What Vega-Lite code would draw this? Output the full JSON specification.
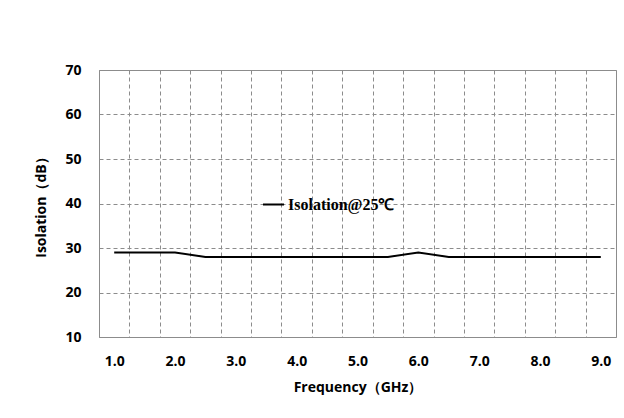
{
  "$schema": "https://vega.github.io/schema/vega-lite/v6.json",
  "autosize": {"type": "none"},
  "padding": {"left": 99, "top": 70, "right": 8, "bottom": 81},
  "width": 517,
  "height": 267,
  "background": "white",
  "data": {
    "values": [
      {"freq": 1.0, "iso": 29, "series": "Isolation@25℃"},
      {"freq": 1.5, "iso": 29, "series": "Isolation@25℃"},
      {"freq": 2.0, "iso": 29, "series": "Isolation@25℃"},
      {"freq": 2.5, "iso": 28, "series": "Isolation@25℃"},
      {"freq": 3.0, "iso": 28, "series": "Isolation@25℃"},
      {"freq": 3.5, "iso": 28, "series": "Isolation@25℃"},
      {"freq": 4.0, "iso": 28, "series": "Isolation@25℃"},
      {"freq": 4.5, "iso": 28, "series": "Isolation@25℃"},
      {"freq": 5.0, "iso": 28, "series": "Isolation@25℃"},
      {"freq": 5.5, "iso": 28, "series": "Isolation@25℃"},
      {"freq": 6.0, "iso": 29, "series": "Isolation@25℃"},
      {"freq": 6.5, "iso": 28, "series": "Isolation@25℃"},
      {"freq": 7.0, "iso": 28, "series": "Isolation@25℃"},
      {"freq": 7.5, "iso": 28, "series": "Isolation@25℃"},
      {"freq": 8.0, "iso": 28, "series": "Isolation@25℃"},
      {"freq": 8.5, "iso": 28, "series": "Isolation@25℃"},
      {"freq": 9.0, "iso": 28, "series": "Isolation@25℃"}
    ]
  },
  "mark": {"type": "line", "strokeWidth": 2, "interpolate": "linear"},
  "encoding": {
    "x": {
      "field": "freq",
      "type": "ordinal",
      "scale": {"paddingInner": 0, "paddingOuter": 0},
      "axis": {
        "title": "Frequency（GHz）",
        "labelExpr": "datum.value % 1 == 0 ? format(datum.value, '.1f') : ''",
        "labelAngle": 0,
        "tickBand": "extent",
        "ticks": false,
        "domain": false,
        "grid": true,
        "gridColor": "#8c8c8c",
        "gridDash": [4, 3],
        "gridWidth": 1,
        "labelPadding": 17,
        "titlePadding": 12
      }
    },
    "y": {
      "field": "iso",
      "type": "quantitative",
      "scale": {"domain": [10, 70], "nice": false, "zero": false},
      "axis": {
        "title": "Isolation（dB）",
        "values": [10, 20, 30, 40, 50, 60, 70],
        "ticks": false,
        "domain": false,
        "grid": true,
        "gridColor": "#8c8c8c",
        "gridDash": [4, 3],
        "gridWidth": 1,
        "labelPadding": 18,
        "titlePadding": 16
      }
    },
    "color": {
      "field": "series",
      "type": "nominal",
      "scale": {"range": ["#000000"]},
      "legend": {
        "title": null,
        "orient": "none",
        "legendX": 163,
        "legendY": 123,
        "symbolType": "stroke",
        "symbolSize": 441,
        "symbolStrokeWidth": 2,
        "symbolStrokeColor": "#000000",
        "labelFont": "Liberation Serif",
        "labelFontWeight": "bold",
        "labelFontSize": 16,
        "labelColor": "#000000",
        "labelOffset": 3
      }
    }
  },
  "config": {
    "view": {"stroke": "#8c8c8c", "strokeWidth": 1},
    "axis": {
      "labelFont": "Open Sans",
      "labelFontWeight": "bold",
      "labelFontSize": 14,
      "labelColor": "#000000",
      "titleFont": "Open Sans",
      "titleFontWeight": "bold",
      "titleFontSize": 14,
      "titleColor": "#000000"
    }
  }
}
